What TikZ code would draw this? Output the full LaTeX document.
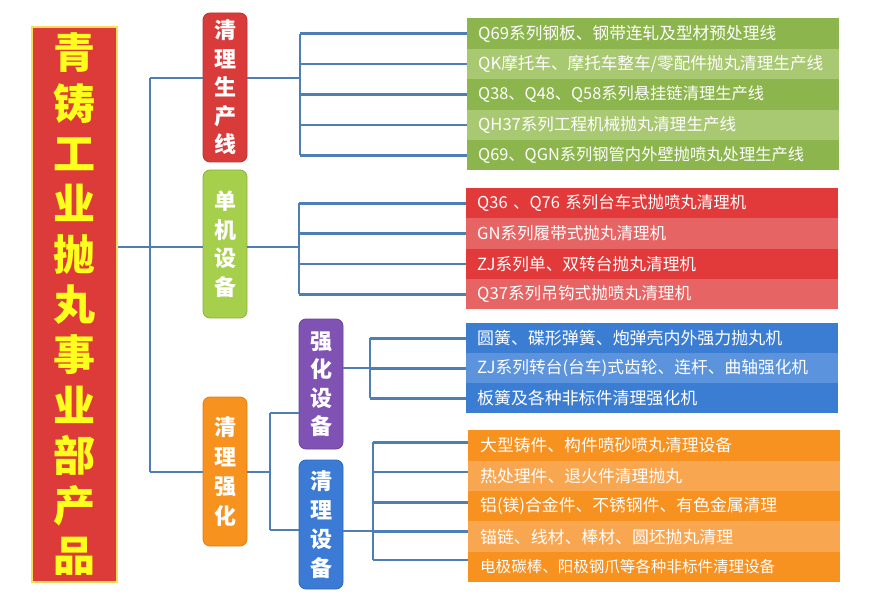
\documentclass[tikz,border=0pt]{standalone}
\usepackage{fontspec}
\usepackage{graphicx}
\setmainfont{Noto Sans CJK SC}
\usetikzlibrary{calc}
\definecolor{connc}{HTML}{4F7DB5}
\definecolor{titlered}{HTML}{DD3A3A}
\definecolor{titleline}{HTML}{F6DE5A}
\definecolor{titletext}{HTML}{FFFF1E}
\definecolor{c1fill}{HTML}{D93B3B}
\definecolor{c1line}{HTML}{B83030}
\definecolor{c2fill}{HTML}{A6D04C}
\definecolor{c2line}{HTML}{8CB040}
\definecolor{c3fill}{HTML}{F7921F}
\definecolor{c3line}{HTML}{E07E14}
\definecolor{c4fill}{HTML}{7F52B3}
\definecolor{c4line}{HTML}{6A4299}
\definecolor{c5fill}{HTML}{3B7BD6}
\definecolor{c5line}{HTML}{2F66B5}
\definecolor{gD}{HTML}{8DB54D}
\definecolor{gL}{HTML}{A9C872}
\definecolor{rD}{HTML}{E23A3A}
\definecolor{rL}{HTML}{E66464}
\definecolor{bD}{HTML}{3B7DD3}
\definecolor{bL}{HTML}{5B93DC}
\definecolor{oD}{HTML}{F7911F}
\definecolor{oL}{HTML}{F9A651}
\newcommand{\fitw}[2]{\resizebox{#1pt}{!}{#2}}
\begin{document}
\begin{tikzpicture}[x=1pt,y=-1pt,
  conn/.style={draw=connc, line width=2.6pt},
  cat/.style={rounded corners=7pt, minimum width=44pt, align=center, text=white,
    font=\fontsize{22}{28.5}\selectfont\bfseries, inner sep=0pt, line width=0.8pt},
  row/.style={anchor=north west, minimum width=372pt, text width=350pt, inner xsep=10pt,
    inner ysep=0pt, align=left, text=white, font=\fontsize{16}{18}\selectfont},
  orow/.style={row, inner xsep=12pt, text width=348pt}
]
\useasboundingbox (0,0) rectangle (869,601);

% title
\node[draw=titleline, line width=1.6pt, fill=titlered, minimum width=85pt, minimum height=555pt,
  inner sep=0pt, align=center, text=titletext, font=\fontsize{42}{50.3}\selectfont\bfseries]
  (title) at (74.5,304.5) {青\\铸\\工\\业\\抛\\丸\\事\\业\\部\\产\\品};

% categories
\node[cat, fill=c1fill, draw=c1line, minimum height=149pt] (c1) at (225,87.5) {清\\理\\生\\产\\线};
\node[cat, fill=c2fill, draw=c2line, minimum height=148pt] (c2) at (225,244) {单\\机\\设\\备};
\node[cat, fill=c3fill, draw=c3line, minimum height=149pt, font=\fontsize{22}{29.7}\selectfont\bfseries] (c3) at (225,471.5) {清\\理\\强\\化};
\node[cat, fill=c4fill, draw=c4line, minimum height=130pt] (c4) at (321,384) {强\\化\\设\\备};
\node[cat, fill=c5fill, draw=c5line, minimum height=129pt, font=\fontsize{22}{29}\selectfont\bfseries] (c5) at (321,524.5) {清\\理\\设\\备};

% green rows
\node[row, fill=gD, minimum height=30.4pt] (g1) at (467,18.3) {\fitw{298}{Q69系列钢板、钢带连轧及型材预处理线}};
\node[row, fill=gL, minimum height=30.4pt] (g2) at (467,48.7) {\fitw{345}{QK摩托车、摩托车整车/零配件抛丸清理生产线}};
\node[row, fill=gD, minimum height=30.4pt] (g3) at (467,79.1) {\fitw{286}{Q38、Q48、Q58系列悬挂链清理生产线}};
\node[row, fill=gL, minimum height=30.4pt] (g4) at (467,109.5) {\fitw{258}{QH37系列工程机械抛丸清理生产线}};
\node[row, fill=gD, minimum height=30.4pt] (g5) at (467,139.9) {\fitw{326}{Q69、QGN系列钢管内外壁抛喷丸处理生产线}};

% red rows
\node[row, fill=rD, minimum height=30.3pt] (r1) at (466,188) {\fitw{269}{Q36 、Q76 系列台车式抛喷丸清理机}};
\node[row, fill=rL, minimum height=30.3pt] (r2) at (466,218.3) {\fitw{189}{GN系列履带式抛丸清理机}};
\node[row, fill=rD, minimum height=30.3pt] (r3) at (466,248.6) {\fitw{219}{ZJ系列单、双转台抛丸清理机}};
\node[row, fill=rL, minimum height=30.3pt] (r4) at (466,278.9) {\fitw{214}{Q37系列吊钩式抛喷丸清理机}};

% blue rows
\node[row, fill=bD, minimum height=30pt] (b1) at (466,323) {\fitw{305}{圆簧、碟形弹簧、炮弹壳内外强力抛丸机}};
\node[row, fill=bL, minimum height=30pt] (b2) at (466,353) {\fitw{331}{ZJ系列转台(台车)式齿轮、连杆、曲轴强化机}};
\node[row, fill=bD, minimum height=30pt] (b3) at (466,383) {\fitw{220}{板簧及各种非标件清理强化机}};

% orange rows
\node[orow, fill=oD, minimum height=30.4pt] (o1) at (468,430) {\fitw{252}{大型铸件、构件喷砂喷丸清理设备}};
\node[orow, fill=oL, minimum height=30.4pt] (o2) at (468,460.4) {\fitw{202}{热处理件、退火件清理抛丸}};
\node[orow, fill=oD, minimum height=30.4pt] (o3) at (468,490.8) {\fitw{297}{铝(镁)合金件、不锈钢件、有色金属清理}};
\node[orow, fill=oL, minimum height=30.4pt] (o4) at (468,521.2) {\fitw{253}{锚链、线材、棒材、圆坯抛丸清理}};
\node[orow, fill=oD, minimum height=30.4pt] (o5) at (468,551.6) {\fitw{295}{电极碳棒、阳极钢爪等各种非标件清理设备}};

% trunk
\coordinate (t1) at (150,78);
\coordinate (t2) at (150,247);
\coordinate (t3) at (150,472);
\draw[conn] (title.east |- t2) -- (c2.west |- t2);
\draw[conn] (t1) -- (t3);
\draw[conn] (t1) -- (c1.west |- t1);
\draw[conn] (t3) -- (c3.west |- t3);

% group 1
\coordinate (k1) at (300,78);
\draw[conn] (c1.east |- k1) -- (k1);
\draw[conn] (g1.west -| k1) -- (g5.west -| k1);
\foreach \n in {g1,g2,g3,g4,g5} \draw[conn] (\n.west -| k1) -- (\n.west);

% group 2
\coordinate (k2) at (299,247);
\draw[conn] (c2.east |- k2) -- (k2);
\draw[conn] (r1.west -| k2) -- (r4.west -| k2);
\foreach \n in {r1,r2,r3,r4} \draw[conn] (\n.west -| k2) -- (\n.west);

% group 3
\coordinate (k3) at (270,472);
\coordinate (k3a) at (270,413);
\coordinate (k3b) at (270,530);
\draw[conn] (c3.east |- k3) -- (k3);
\draw[conn] (k3a) -- (k3b);
\draw[conn] (k3a) -- (c4.west |- k3a);
\draw[conn] (k3b) -- (c5.west |- k3b);

% group 4
\coordinate (k4) at (370,368);
\draw[conn] (c4.east |- k4) -- (k4);
\draw[conn] (b1.west -| k4) -- (b3.west -| k4);
\foreach \n in {b1,b2,b3} \draw[conn] (\n.west -| k4) -- (\n.west);

% group 5
\coordinate (k5) at (373,531);
\draw[conn] (c5.east |- k5) -- (k5);
\draw[conn] ([yshift=3pt]o1.west -| k5) -- ([yshift=7pt]o5.west -| k5);
\foreach \n/\d in {o1/3,o2/4,o3/4,o4/5,o5/7} \draw[conn] ([yshift=\d pt]\n.west -| k5) -- ([yshift=\d pt]\n.west);
\end{tikzpicture}
\end{document}
